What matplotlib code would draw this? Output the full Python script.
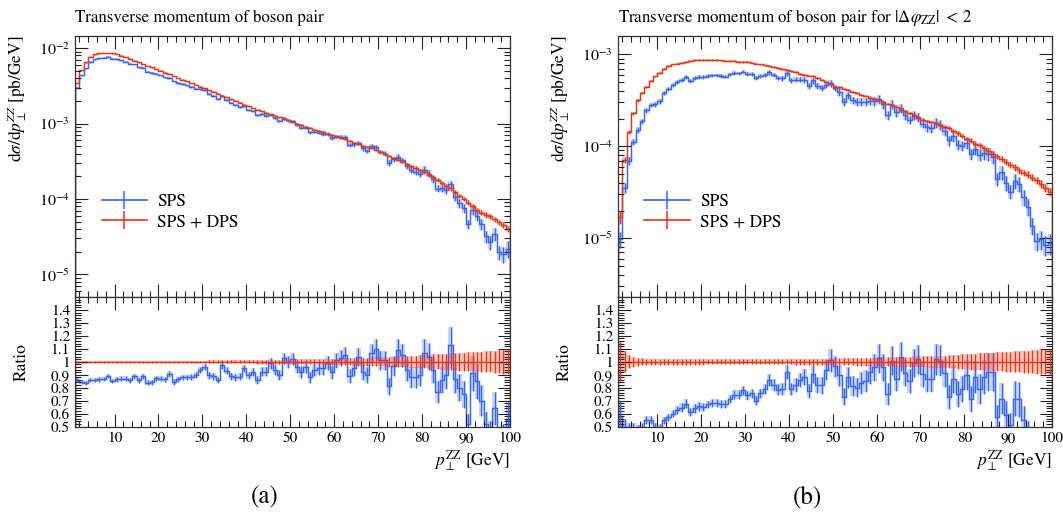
import numpy as np
import matplotlib
matplotlib.use("Agg")
import matplotlib.pyplot as plt
from matplotlib.lines import Line2D
from matplotlib.ticker import (MultipleLocator, FixedLocator, LogLocator,
                               FuncFormatter, NullFormatter)

plt.rcParams['font.family'] = ['STIXGeneral', 'DejaVu Serif']
plt.rcParams['mathtext.fontset'] = 'stix'

# bins: 1 GeV wide, 1..100 GeV
edges = np.arange(1, 101)

# ---- panel (a): all events ----
# log10 of dsigma/dpT for SPS + DPS
log_tot_a = [-2.46, -2.29, -2.19, -2.12, -2.085, -2.07, -2.065, -2.065, -2.07, -2.08,
             -2.10, -2.12, -2.14, -2.165, -2.19, -2.21, -2.235, -2.255, -2.28, -2.30,
             -2.325, -2.35, -2.37, -2.395, -2.42, -2.44, -2.465, -2.49, -2.51, -2.535,
             -2.56, -2.58, -2.605, -2.63, -2.655, -2.68, -2.70, -2.725, -2.75, -2.77,
             -2.795, -2.82, -2.84, -2.86, -2.88, -2.90, -2.92, -2.94, -2.96, -2.98,
             -3.00, -3.02, -3.04, -3.06, -3.08, -3.10, -3.115, -3.135, -3.155, -3.175,
             -3.195, -3.205, -3.235, -3.255, -3.27, -3.295, -3.315, -3.325, -3.355, -3.38,
             -3.405, -3.43, -3.46, -3.48, -3.51, -3.54, -3.565, -3.59, -3.62, -3.64,
             -3.68, -3.71, -3.75, -3.79, -3.83, -3.86, -3.91, -3.96, -4.00, -4.05,
             -4.10, -4.15, -4.18, -4.21, -4.23, -4.27, -4.31, -4.35, -4.40]
# SPS / (SPS + DPS)
ratio_a = [0.858, 0.845, 0.837, 0.858, 0.858, 0.863, 0.868, 0.889, 0.853, 0.863,
           0.868, 0.868, 0.858, 0.889, 0.858, 0.889, 0.837, 0.842, 0.871, 0.868,
           0.863, 0.904, 0.845, 0.863, 0.879, 0.879, 0.884, 0.897, 0.935, 0.961,
           0.897, 0.889, 0.858, 0.974, 0.930, 0.889, 0.879, 0.884, 0.948, 0.897,
           0.922, 0.858, 0.922, 0.922, 0.987, 0.935, 0.897, 1.026, 1.000, 1.020,
           0.96, 0.92, 0.96, 0.88, 0.935, 0.95, 0.95, 0.99, 0.92, 1.01,
           1.03, 1.05, 0.89, 0.95, 1.04, 0.92, 0.90, 1.065, 1.10, 1.01,
           1.01, 0.81, 0.97, 1.09, 1.05, 0.935, 0.88, 0.88, 0.90, 1.07,
           1.04, 0.935, 0.77, 0.86, 0.90, 1.13, 0.87, 0.80, 0.75, 0.52,
           0.91, 0.85, 0.70, 0.52, 0.45, 0.64, 0.40, 0.42, 0.55]
# relative uncertainties
err_tot_a = [0.006, 0.006, 0.006, 0.006, 0.006, 0.006, 0.006, 0.006, 0.006, 0.006,
             0.007, 0.007, 0.007, 0.007, 0.007, 0.007, 0.007, 0.007, 0.007, 0.007,
             0.008, 0.008, 0.008, 0.008, 0.008, 0.008, 0.008, 0.008, 0.008, 0.008,
             0.010, 0.010, 0.010, 0.011, 0.011, 0.011, 0.012, 0.012, 0.012, 0.013,
             0.013, 0.014, 0.014, 0.015, 0.015, 0.016, 0.016, 0.017, 0.017, 0.018,
             0.018, 0.019, 0.019, 0.020, 0.021, 0.021, 0.022, 0.023, 0.024, 0.025,
             0.026, 0.027, 0.028, 0.029, 0.030, 0.031, 0.032, 0.033, 0.034, 0.035,
             0.036, 0.038, 0.039, 0.041, 0.042, 0.044, 0.046, 0.048, 0.050, 0.052,
             0.054, 0.056, 0.058, 0.060, 0.062, 0.064, 0.066, 0.068, 0.070, 0.072,
             0.074, 0.076, 0.078, 0.080, 0.083, 0.086, 0.089, 0.092, 0.095]
err_sps_a = [0.020, 0.020, 0.020, 0.020, 0.020, 0.020, 0.020, 0.020, 0.020, 0.020,
             0.022, 0.022, 0.022, 0.022, 0.022, 0.022, 0.022, 0.022, 0.022, 0.022,
             0.025, 0.025, 0.025, 0.025, 0.025, 0.025, 0.025, 0.025, 0.025, 0.025,
             0.030, 0.030, 0.030, 0.030, 0.030, 0.030, 0.030, 0.030, 0.030, 0.030,
             0.035, 0.035, 0.038, 0.038, 0.040, 0.040, 0.042, 0.042, 0.045, 0.045,
             0.045, 0.048, 0.048, 0.050, 0.050, 0.052, 0.052, 0.055, 0.055, 0.058,
             0.058, 0.060, 0.062, 0.062, 0.065, 0.065, 0.068, 0.070, 0.070, 0.072,
             0.075, 0.078, 0.080, 0.082, 0.085, 0.088, 0.090, 0.092, 0.095, 0.100,
             0.10, 0.11, 0.11, 0.12, 0.12, 0.12, 0.13, 0.13, 0.14, 0.15,
             0.15, 0.16, 0.17, 0.18, 0.20, 0.20, 0.22, 0.24, 0.25]

# ---- panel (b): |dphi_ZZ| < 2 ----
log_tot_b = [-4.77, -4.15, -3.84, -3.64, -3.50, -3.42, -3.35, -3.29, -3.24, -3.20,
             -3.16, -3.13, -3.11, -3.10, -3.09, -3.08, -3.07, -3.065, -3.06, -3.06,
             -3.06, -3.06, -3.06, -3.065, -3.07, -3.07, -3.075, -3.08, -3.08, -3.085,
             -3.09, -3.10, -3.11, -3.12, -3.13, -3.14, -3.15, -3.16, -3.17, -3.18,
             -3.19, -3.21, -3.22, -3.23, -3.24, -3.26, -3.28, -3.30, -3.32, -3.35,
             -3.36, -3.38, -3.39, -3.41, -3.42, -3.44, -3.45, -3.47, -3.49, -3.50,
             -3.52, -3.54, -3.55, -3.57, -3.60, -3.62, -3.64, -3.66, -3.69, -3.71,
             -3.73, -3.74, -3.75, -3.77, -3.79, -3.80, -3.83, -3.86, -3.89, -3.92,
             -3.94, -3.97, -3.99, -4.02, -4.05, -4.08, -4.11, -4.14, -4.17, -4.20,
             -4.23, -4.26, -4.29, -4.31, -4.34, -4.37, -4.41, -4.45, -4.50]
ratio_b = [0.58, 0.50, 0.48, 0.49, 0.48, 0.49, 0.55, 0.55, 0.50, 0.49,
           0.548, 0.57, 0.60, 0.625, 0.646, 0.677, 0.61, 0.64, 0.656, 0.65,
           0.67, 0.68, 0.68, 0.677, 0.675, 0.71, 0.747, 0.747, 0.78, 0.74,
           0.755, 0.70, 0.755, 0.79, 0.86, 0.82, 0.785, 0.79, 0.92, 0.79,
           0.82, 0.86, 0.88, 0.775, 0.905, 0.82, 0.82, 0.935, 1.01, 0.966,
           0.897, 0.73, 0.88, 0.81, 0.80, 0.837, 0.85, 0.92, 0.956, 1.026,
           0.956, 0.75, 1.008, 0.87, 1.04, 0.915, 0.85, 0.987, 1.018, 0.905,
           0.87, 0.87, 1.018, 1.008, 0.915, 0.73, 0.87, 0.75, 0.79, 0.897,
           0.716, 0.88, 0.79, 0.88, 0.92, 0.917, 0.57, 0.716, 0.59, 0.51,
           0.716, 0.71, 0.55, 0.45, 0.30, 0.22, 0.25, 0.24, 0.28]
err_tot_b = [0.15, 0.08, 0.05, 0.04, 0.032, 0.028, 0.025, 0.024, 0.023, 0.022,
             0.022, 0.022, 0.022, 0.022, 0.022, 0.022, 0.022, 0.022, 0.022, 0.022,
             0.021, 0.021, 0.021, 0.021, 0.021, 0.021, 0.021, 0.021, 0.021, 0.021,
             0.021, 0.021, 0.021, 0.021, 0.021, 0.021, 0.021, 0.021, 0.021, 0.021,
             0.022, 0.022, 0.023, 0.023, 0.024, 0.024, 0.025, 0.025, 0.026, 0.026,
             0.027, 0.027, 0.028, 0.028, 0.029, 0.029, 0.030, 0.031, 0.032, 0.033,
             0.034, 0.035, 0.036, 0.037, 0.038, 0.039, 0.040, 0.041, 0.042, 0.043,
             0.044, 0.045, 0.046, 0.047, 0.048, 0.050, 0.052, 0.054, 0.056, 0.058,
             0.060, 0.062, 0.064, 0.066, 0.068, 0.070, 0.072, 0.074, 0.076, 0.078,
             0.080, 0.082, 0.084, 0.086, 0.089, 0.092, 0.095, 0.098, 0.100]
err_sps_b = [0.20, 0.12, 0.10, 0.08, 0.07, 0.07, 0.06, 0.06, 0.06, 0.06,
             0.05, 0.05, 0.05, 0.05, 0.05, 0.05, 0.05, 0.05, 0.05, 0.05,
             0.045, 0.045, 0.045, 0.045, 0.045, 0.045, 0.045, 0.045, 0.045, 0.045,
             0.05, 0.05, 0.05, 0.05, 0.055, 0.055, 0.055, 0.06, 0.06, 0.06,
             0.065, 0.065, 0.07, 0.07, 0.075, 0.075, 0.08, 0.08, 0.085, 0.085,
             0.09, 0.09, 0.09, 0.095, 0.095, 0.10, 0.10, 0.10, 0.11, 0.11,
             0.11, 0.11, 0.11, 0.11, 0.11, 0.11, 0.11, 0.11, 0.11, 0.11,
             0.115, 0.115, 0.12, 0.12, 0.12, 0.125, 0.125, 0.13, 0.13, 0.13,
             0.14, 0.14, 0.15, 0.15, 0.16, 0.16, 0.17, 0.17, 0.18, 0.18,
             0.19, 0.19, 0.20, 0.20, 0.22, 0.22, 0.24, 0.24, 0.25]

titles = ['Transverse momentum of boson pair',
          r'Transverse momentum of boson pair for $|\Delta\varphi_{\mathrm{ZZ}}|\;<\;2$']
labels = ['SPS', 'SPS + DPS']
BLUE = '#3366ff'
RED = '#ee3311'

W, H = 1063, 515
fig = plt.figure(figsize=(W / 100, H / 100), dpi=100)

centers = edges[:-1] + 0.5


def px(x0, y0, x1, y1):
    # pixel box -> figure fraction rect
    return [x0 / W, 1 - y1 / H, (x1 - x0) / W, (y1 - y0) / H]


def draw_hist(ax, vals, rel, color):
    vals = np.asarray(vals)
    rel = np.asarray(rel)
    lo = vals * (1 - rel)
    hi = vals * (1 + rel)
    ax.fill_between(edges, np.append(lo, lo[-1]), np.append(hi, hi[-1]),
                    step='post', color=color, alpha=0.28, lw=0)
    ax.vlines(centers, lo, hi, color=color, lw=0.9)
    ax.stairs(vals, edges, color=color, lw=1.05)


def style(ax):
    ax.set_xlim(1, 100)
    ax.xaxis.set_major_locator(MultipleLocator(10))
    ax.xaxis.set_minor_locator(MultipleLocator(2))
    ax.tick_params(which='both', direction='in', top=True, right=True,
                   labelsize=11, width=0.8, color='#222222')
    ax.tick_params(which='major', length=9.5)
    ax.tick_params(which='minor', length=4.5)
    for s in ax.spines.values():
        s.set_linewidth(0.9)
        s.set_color('#333333')


panels = [
    (log_tot_a, ratio_a, err_tot_a, err_sps_a, (10 ** -5.3, 10 ** -1.84), 75, 510),
    (log_tot_b, ratio_b, err_tot_b, err_sps_b, (10 ** -5.64, 10 ** -2.8), 618, 1052),
]

for i, (lt, rt, et, es, ylim, x0, x1) in enumerate(panels):
    tot = 10 ** np.asarray(lt)
    rat = np.asarray(rt)
    sps = tot * rat

    am = fig.add_axes(px(x0, 36, x1, 297))
    ar = fig.add_axes(px(x0, 297, x1, 426.5), sharex=am)

    draw_hist(am, sps, es, BLUE)
    draw_hist(am, tot, et, RED)
    am.set_yscale('log')
    am.set_ylim(*ylim)
    style(am)
    am.yaxis.set_major_locator(LogLocator(base=10, numticks=10))
    am.yaxis.set_minor_locator(LogLocator(base=10, subs=np.arange(2, 10), numticks=10))
    am.yaxis.set_minor_formatter(NullFormatter())
    am.tick_params(labelbottom=False)
    am.tick_params(axis='y', labelsize=11.5)
    am.set_ylabel(r'$\mathrm{d}\sigma/\mathrm{d}p_\perp^{ZZ}$ [pb/GeV]', fontsize=12.5,
                  loc='top')
    am.yaxis.set_label_coords(-0.105, 1.0)

    handles = [(Line2D([], [], color=c, lw=1.2),
                Line2D([], [], color=c, marker='|', ms=13, mew=1.1, ls='none'))
               for c in (BLUE, RED)]
    am.legend(handles, labels, loc='upper left', bbox_to_anchor=(0.025, 0.455),
              frameon=False, fontsize=12.5, handlelength=2.6, handletextpad=0.6,
              labelspacing=0.22)

    draw_hist(ar, rat, es, BLUE)
    draw_hist(ar, np.ones_like(rat), et, RED)
    style(ar)
    ar.set_ylim(0.5, 1.5)
    ar.yaxis.set_major_locator(FixedLocator(np.arange(0.5, 1.45, 0.1)))
    ar.yaxis.set_minor_locator(MultipleLocator(0.02))
    ar.yaxis.set_major_formatter(FuncFormatter(lambda v, p: f'{v:g}'))
    ar.xaxis.set_major_formatter(FuncFormatter(lambda v, p: f'{v:g}'))
    ar.tick_params(axis='y', which='major', length=9)
    ar.tick_params(axis='y', which='minor', length=4.5)
    ar.tick_params(axis='x', pad=4)
    ar.set_ylabel('Ratio', fontsize=12.5)
    ar.yaxis.set_label_coords(-0.105, 0.5)

    fig.text(x0 / W, 1 - 22 / H, titles[i], fontsize=12.2, va='baseline', ha='left')
    fig.text(x1 / W, 1 - 466 / H, r'$p_\perp^{\mathrm{ZZ}}$ [GeV]', fontsize=12.5,
             va='baseline', ha='right')
    fig.text(((x0 + x1) / 2 - 28) / W, 1 - 497 / H, '(a)' if i == 0 else '(b)',
             fontsize=18, va='center', ha='center')

fig.savefig('out.png', dpi=100)
